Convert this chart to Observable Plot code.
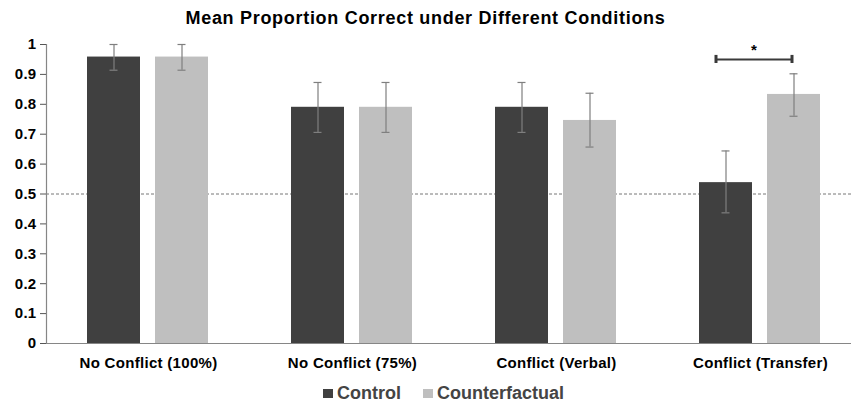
<!DOCTYPE html>
<html>
<head>
<meta charset="utf-8">
<script src="https://cdn.jsdelivr.net/npm/d3@7"></script>
<script src="https://cdn.jsdelivr.net/npm/@observablehq/plot@0.6"></script>
<style>
  html, body { margin: 0; padding: 0; overflow: hidden; background: #fff; width: 851px; height: 402px; }
  body { font-family: "Liberation Sans", Arial, Helvetica, sans-serif; }
  #title { height: 36px; line-height: 36px; text-align: center; font-weight: bold; font-size: 18px; letter-spacing: 0.7px; color: #000; padding-left: 0; }
  #legend { height: 34px; display: flex; align-items: center; padding-left: 323px; font-weight: bold; font-size: 18px; color: #444; }
  .item { display: flex; align-items: center; margin-right: 22px; }
  .sw { width: 10px; height: 9px; margin-right: 4px; }
  svg { display: block; }
  #chart svg text { letter-spacing: 0.3px; }
</style>
</head>
<body>
<div id="title">Mean Proportion Correct under Different Conditions</div>
<div id="chart"></div>
<div id="legend"></div>
<script>
const categories = ["No Conflict (100%)", "No Conflict (75%)", "Conflict (Verbal)", "Conflict (Transfer)"];
const conditions = ["Control", "Counterfactual"];
const controlMean = [0.958, 0.790, 0.790, 0.538];
const controlLow  = [0.914, 0.706, 0.706, 0.437];
const controlHigh = [1.000, 0.873, 0.873, 0.644];
const cfMean = [0.958, 0.790, 0.746, 0.833];
const cfLow  = [0.914, 0.706, 0.657, 0.760];
const cfHigh = [1.000, 0.873, 0.837, 0.902];
const yTicks = [0, 0.1, 0.2, 0.3, 0.4, 0.5, 0.6, 0.7, 0.8, 0.9, 1];
const colors = ["#404040", "#bfbfbf"];
const sigCategory = "Conflict (Transfer)";
const sigY = 0.95;
const sigLabel = "*";

const rows = categories.flatMap((c, i) => [
  {category: c, condition: "Control", value: controlMean[i], low: controlLow[i], high: controlHigh[i]},
  {category: c, condition: "Counterfactual", value: cfMean[i], low: cfLow[i], high: cfHigh[i]}
]);
const sig = [{category: sigCategory, from: "Control", to: "Counterfactual", y: sigY, label: sigLabel}];

const errColor = "#7f7f7f";
const plot = Plot.plot({
  width: 851,
  height: 340,
  marginTop: 8,
  marginBottom: 33,
  marginLeft: 46,
  marginRight: -11,
  style: {fontFamily: "'Liberation Sans', Arial, sans-serif", fontWeight: "bold", fontSize: "15px", color: "#000", background: "#fff"},
  fx: {domain: categories, padding: 0, label: null, axis: null},
  x: {domain: conditions, paddingInner: 0.217, paddingOuter: 0.587, axis: null},
  y: {domain: [0, 1], axis: null},
  color: {domain: conditions, range: colors},
  marks: [
    Plot.ruleY([0.5], {stroke: "#777", strokeWidth: 1, strokeDasharray: "3,2"}),
    Plot.barY(rows, {fx: "category", x: "condition", y: "value", fill: "condition"}),
    Plot.ruleX(rows, {fx: "category", x: "condition", y1: "low", y2: "high", stroke: errColor, strokeWidth: 1.2}),
    Plot.tickY(rows, {fx: "category", x: "condition", y: "low", stroke: errColor, strokeWidth: 1.2, insetLeft: 22.5, insetRight: 22.5}),
    Plot.tickY(rows, {fx: "category", x: "condition", y: "high", stroke: errColor, strokeWidth: 1.2, insetLeft: 22.5, insetRight: 22.5}),
    Plot.ruleY([0], {stroke: "#868686", strokeWidth: 1.2}),
    Plot.frame({anchor: "left", facetAnchor: "left", stroke: "#868686", strokeWidth: 1.2}),
    Plot.axisY({ticks: yTicks, tickFormat: d => String(+d.toFixed(1)), tickSize: 6, tickPadding: 4, stroke: "#555", label: null, fontSize: 15, fontWeight: "bold", fill: "#000"}),
    Plot.axisFx({anchor: "bottom", tickSize: 0, tickPadding: 14, label: null, fontSize: 15, fontWeight: "bold", fill: "#000"}),
    Plot.ruleY(sig, {fx: "category", x1: "from", x2: "to", y: "y", stroke: "#3a3a3a", strokeWidth: 2, insetLeft: 17, insetRight: 29}),
    Plot.ruleX(sig, {fx: "category", x: "from", y1: d => d.y - 0.0135, y2: d => d.y + 0.0135, stroke: "#3a3a3a", strokeWidth: 3, dx: -10}),
    Plot.ruleX(sig, {fx: "category", x: "to", y1: d => d.y - 0.0135, y2: d => d.y + 0.0135, stroke: "#3a3a3a", strokeWidth: 3, dx: -2}),
    Plot.text(sig, {fx: "category", x: "from", y: d => d.y + 0.03, text: "label", dx: 28, fontSize: 15, fontWeight: "bold", fill: "#000"})
  ]
});
document.getElementById("chart").appendChild(plot);

const legend = document.getElementById("legend");
conditions.forEach((c, i) => {
  const it = document.createElement("div");
  it.className = "item";
  const sw = document.createElement("div");
  sw.className = "sw";
  sw.style.background = colors[i];
  const t = document.createElement("span");
  t.textContent = c;
  it.appendChild(sw); it.appendChild(t);
  legend.appendChild(it);
});
</script>
</body>
</html>
